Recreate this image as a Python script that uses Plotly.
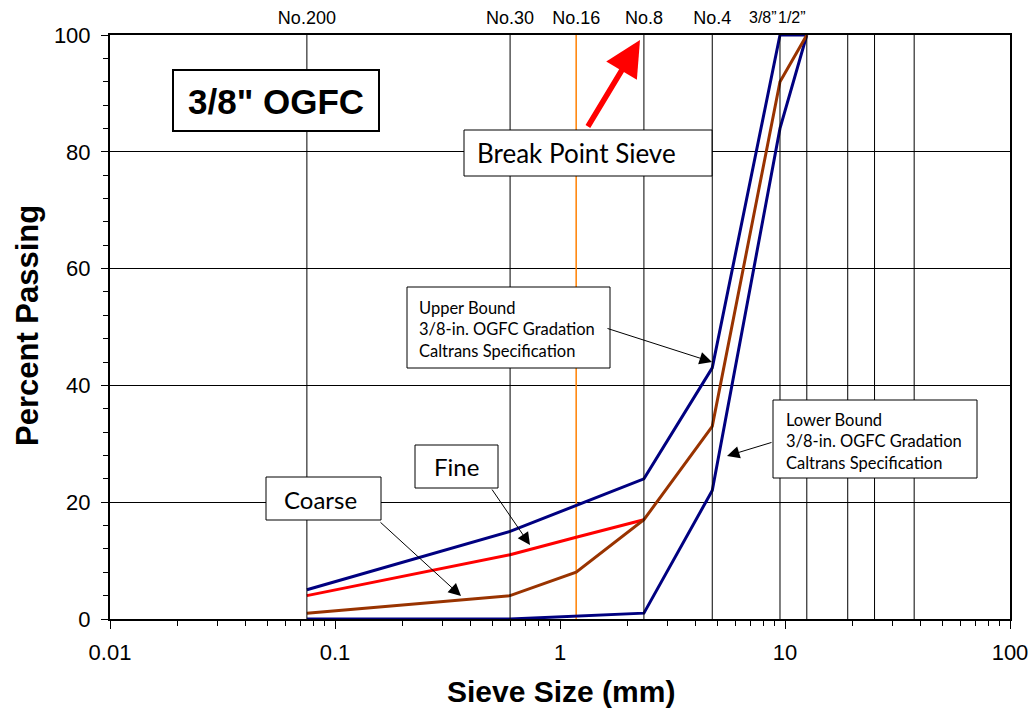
import math
import plotly.graph_objects as go

# ---------------- data ----------------
sieve_sizes = [0.075, 0.6, 1.18, 2.36, 4.75, 9.5, 12.5, 19, 25, 37.5]
sieve_labels = ["No.200", "No.30", "No.16", "No.8", "No.4", "3/8\u201d", "1/2\u201d", "", "", ""]

upper_x = [0.075, 0.6, 2.36, 4.75, 9.5, 12.5]
upper_y = [5, 15, 24, 43, 100, 100]

lower_x = [0.075, 0.6, 2.36, 4.75, 9.5, 12.5]
lower_y = [0, 0, 1, 22, 84, 100]

coarse_x = [0.075, 0.6, 1.18, 2.36, 4.75, 9.5, 12.5]
coarse_y = [1, 4, 8, 17, 33, 92, 100]

fine_x = [0.075, 0.6, 1.18, 2.36]
fine_y = [4, 11, 14, 17]

break_sieve = 1.18

x_ticks = [0.01, 0.1, 1, 10, 100]
x_ticktext = ["0.01", "0.1", "1", "10", "100"]
y_ticks = [0, 20, 40, 60, 80, 100]

# ---------------- layout helpers ----------------
W, H = 1034, 712
L, R, T, B = 110, 24, 35, 93
PW, PH = W - L - R, H - T - B


def px(xp):
    return (xp - L) / PW


def py(yp):
    return (H - B - yp) / PH


NAVY = "#000080"
BROWN = "#993300"
RED = "#FF0000"
ORANGE = "#FF8000"
ARIAL = "Liberation Sans, Arial, sans-serif"
CALI = "Lato, Carlito, Calibri, sans-serif"

fig = go.Figure()

# vertical sieve grid lines (drawn through the top axis)
gx, gy = [], []
for s in sieve_sizes:
    if s == break_sieve:
        continue
    gx += [s, s, None]
    gy += [0, 100, None]
fig.add_trace(go.Scatter(x=gx, y=gy, mode="lines", xaxis="x2",
                         line=dict(color="black", width=1), hoverinfo="skip", showlegend=False))
fig.add_trace(go.Scatter(x=[break_sieve, break_sieve], y=[0, 100], mode="lines",
                         line=dict(color=ORANGE, width=1.5), hoverinfo="skip", showlegend=False))

fig.add_trace(go.Scatter(x=upper_x, y=upper_y, mode="lines", line=dict(color=NAVY, width=3),
                         name="Upper Bound", showlegend=False))
fig.add_trace(go.Scatter(x=lower_x, y=lower_y, mode="lines", line=dict(color=NAVY, width=3),
                         name="Lower Bound", showlegend=False))
fig.add_trace(go.Scatter(x=fine_x, y=fine_y, mode="lines", line=dict(color=RED, width=3),
                         name="Fine", showlegend=False))
fig.add_trace(go.Scatter(x=coarse_x, y=coarse_y, mode="lines", line=dict(color=BROWN, width=3),
                         name="Coarse", showlegend=False))

minor_x = [m * d for d in (0.01, 0.1, 1, 10) for m in range(2, 10)]

# top sieve labels: the two close inch sizes are placed as separate texts
top_ticktext = [t if not t.endswith("\u201d") else "" for t in sieve_labels]

fig.update_layout(
    width=W, height=H,
    margin=dict(l=L, r=R, t=T, b=B, autoexpand=False),
    paper_bgcolor="white", plot_bgcolor="white",
    showlegend=False,
    xaxis=dict(type="log", range=[-2, 2], tickvals=x_ticks, ticktext=x_ticktext,
               ticks="outside", ticklen=8, tickcolor="black", tickwidth=1, automargin=False,
               showgrid=False, zeroline=False, showline=True, linecolor="black", linewidth=1.5,
               mirror=True, tickfont=dict(family=ARIAL, size=22, color="black"),
               ticklabelstandoff=5, tickangle=0,
               minor=dict(tickvals=minor_x, ticks="outside", ticklen=5, tickcolor="black",
                          showgrid=False)),
    xaxis2=dict(type="log", range=[-2, 2], overlaying="x", side="top", anchor="y",
                tickvals=sieve_sizes, ticktext=top_ticktext, ticks="", showgrid=False,
                zeroline=False, showline=False, tickangle=0, ticklabelstandoff=6, automargin=False,
                tickfont=dict(family=ARIAL, size=18, color="black")),
    yaxis=dict(range=[0, 100], tickvals=y_ticks, ticks="outside", ticklen=7, tickcolor="black",
               showgrid=True, gridcolor="black", gridwidth=1, zeroline=False, automargin=False,
               showline=True, linecolor="black", linewidth=2, mirror=True,
               tickfont=dict(family=ARIAL, size=22, color="black"), ticklabelstandoff=6,
               minor=dict(dtick=4, ticks="outside", ticklen=5, tickcolor="black", showgrid=False)),
)

for s, lab in zip(sieve_sizes, sieve_labels):
    if lab.endswith("\u201d"):
        fig.add_annotation(xref="x2", yref="paper", x=math.log10(s), y=py(18), text=lab,
                           showarrow=False, xanchor="right", yanchor="middle",
                           xshift=-1 if s < 10 else 1,
                           font=dict(family=ARIAL, size=16, color="black"))

# ---------------- boxes ----------------
boxes = [
    (173, 70, 379, 131, 2),   # title
    (464, 130, 712, 176, 1),  # break point sieve
    (407, 287, 610, 368, 1),  # upper bound
    (773, 400, 977, 478, 1),  # lower bound
    (415, 445, 498, 488, 1),  # fine
    (266, 477, 381, 520, 1),  # coarse
]
for x0, y0, x1, y1, lw in boxes:
    fig.add_shape(type="rect", xref="paper", yref="paper",
                  x0=px(x0), x1=px(x1), y0=py(y1), y1=py(y0),
                  line=dict(color="black", width=lw), fillcolor="white", layer="above")


def text(xp, yp, s, size, family=CALI, bold=False, anchor="center"):
    fig.add_annotation(xref="paper", yref="paper", x=px(xp), y=py(yp), text=s,
                       showarrow=False, xanchor=anchor, yanchor="middle", align="left",
                       font=dict(family=family, size=size, color="black",
                                 weight="bold" if bold else "normal"))


text(276, 101, "3/8\" OGFC", 35, family=ARIAL, bold=True)
text(475, 153, "Break Point Sieve", 26, anchor="left")
text(417, 329, "Upper Bound<br>3/8-in. OGFC Gradation<br>Caltrans Specification", 16.5, anchor="left")
text(784, 441, "Lower Bound<br>3/8-in. OGFC Gradation<br>Caltrans Specification", 16.5, anchor="left")
text(456, 466, "Fine", 24)
text(320, 499, "Coarse", 24)


def arrow(hx, hy, tx, ty, color="black", width=1, size=2.5):
    fig.add_annotation(xref="paper", yref="paper", x=px(hx), y=py(hy), ax=tx - hx, ay=ty - hy,
                       text="", showarrow=True, arrowhead=2, arrowsize=size, arrowwidth=width,
                       arrowcolor=color, standoff=0, startstandoff=0)


arrow(640, 40, 587, 128, color=RED, width=5.5, size=1.3)
arrow(712, 362, 606, 328)
arrow(727, 456, 773, 442)
arrow(530, 545, 491, 488)
arrow(461, 596, 379, 521)

# axis titles
fig.add_annotation(xref="paper", yref="paper", x=px(561), y=py(691), text="Sieve Size (mm)",
                   showarrow=False, xanchor="center", yanchor="middle",
                   font=dict(family=ARIAL, size=30, color="black", weight="bold"))
fig.add_annotation(xref="paper", yref="paper", x=px(27), y=py(326), text="Percent Passing",
                   showarrow=False, xanchor="center", yanchor="middle", textangle=-90,
                   font=dict(family=ARIAL, size=31, color="black", weight="bold"))

fig.write_html("out.html", config={"displayModeBar": False},
               post_script="document.body.style.margin='0';")
